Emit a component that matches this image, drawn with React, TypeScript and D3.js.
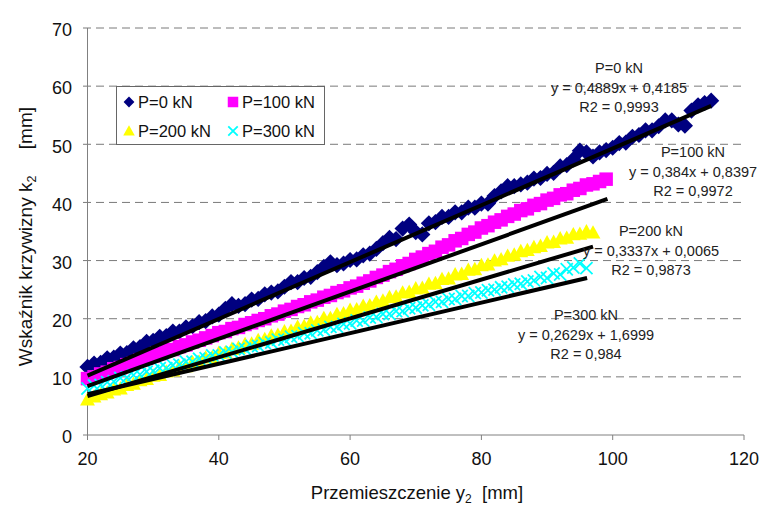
import * as d3 from "d3";

// x positions of the measurements [mm]
const p0X = d3.range(20, 116);
const p100X = d3.range(20, 100);
const p200X = d3.range(20, 98);
const p300X = d3.range(20, 97);

// k2 values
const p0Y = [
  11.7, 12.3, 12.4, 13.2, 13.3, 14.0, 14.1, 14.9, 15.1, 16.0, 16.2, 16.9, 17.0, 17.8, 17.8, 18.5,
  18.7, 19.4, 19.6, 20.4, 20.7, 21.7, 22.5, 22.2, 22.5, 23.3, 23.4, 24.2, 24.5, 24.7, 25.5, 26.3,
  26.3, 27.0, 27.2, 28.0, 28.9, 29.7, 29.2, 29.5, 30.1, 30.2, 30.9, 31.2, 32.0, 33.0, 33.9, 33.7,
  35.5, 36.2, 34.9, 34.5, 36.4, 36.6, 37.5, 37.5, 38.3, 38.3, 39.1, 39.1, 39.8, 39.8, 41.1, 41.9,
  42.8, 42.8, 43.1, 43.4, 44.1, 44.2, 44.9, 45.1, 46.2, 46.4, 47.4, 48.9, 48.6, 47.9, 48.6, 49.0,
  49.4, 50.2, 50.3, 51.3, 51.6, 52.4, 52.4, 53.1, 54.1, 54.1, 53.4, 53.2, 55.8, 56.7, 57.1, 57.5,
];
const p100Y = [
  9.7, 10.0, 10.5, 10.8, 11.4, 11.6, 12.1, 12.4, 12.9, 13.2, 13.6, 14.0, 14.5, 14.7, 15.2, 15.5,
  16.0, 16.3, 16.7, 17.1, 17.6, 17.8, 18.3, 18.5, 19.0, 19.3, 19.7, 20.0, 20.5, 20.8, 21.3, 21.6,
  22.1, 22.4, 22.9, 23.2, 23.7, 24.0, 24.5, 24.8, 25.3, 25.6, 26.1, 26.5, 27.1, 27.5, 28.1, 28.5,
  29.1, 29.5, 30.2, 30.6, 31.2, 31.6, 32.3, 32.7, 33.4, 33.8, 34.5, 34.9, 35.6, 36.0, 36.6, 37.0,
  37.6, 38.0, 38.6, 38.9, 39.5, 39.8, 40.4, 40.7, 41.3, 41.5, 42.1, 42.4, 43.0, 43.2, 43.6, 44.0,
];
const p200Y = [
  6.1, 6.6, 7.0, 7.3, 7.8, 8.0, 8.6, 8.8, 9.4, 9.6, 10.2, 10.3, 10.9, 11.1, 11.7, 11.8,
  12.5, 12.6, 13.3, 13.4, 14.1, 14.2, 14.8, 15.0, 15.6, 15.7, 16.3, 16.5, 17.1, 17.2, 17.8, 17.9,
  18.6, 18.7, 19.3, 19.4, 20.1, 20.1, 20.8, 20.9, 21.5, 21.6, 22.2, 22.3, 22.9, 23.1, 23.7, 23.8,
  24.5, 24.6, 25.2, 25.3, 26.0, 26.1, 26.8, 26.9, 27.6, 27.7, 28.4, 28.5, 29.2, 29.3, 30.0, 30.2,
  30.8, 31.0, 31.6, 31.8, 32.3, 32.5, 33.1, 33.2, 33.8, 33.9, 34.5, 34.6, 35.0, 34.8,
];
const p300Y = [
  8.0, 8.5, 8.6, 9.1, 9.2, 9.8, 9.9, 10.3, 10.4, 10.9, 11.0, 11.5, 11.5, 12.0, 12.1, 12.6,
  12.6, 13.1, 13.2, 13.7, 13.7, 14.2, 14.3, 14.8, 14.8, 15.3, 15.3, 15.8, 15.9, 16.4, 16.4, 16.9,
  17.0, 17.5, 17.5, 18.0, 18.1, 18.6, 18.6, 19.1, 19.2, 19.7, 19.7, 20.2, 20.3, 20.8, 20.8, 21.3,
  21.3, 21.8, 21.9, 22.3, 22.4, 22.9, 22.9, 23.4, 23.4, 23.9, 23.9, 24.4, 24.5, 24.9, 25.0, 25.4,
  25.5, 25.9, 26.0, 26.4, 26.6, 27.2, 27.0, 27.8, 27.6, 28.5, 28.8, 29.5, 28.7,
];

// trend lines as drawn: [x start, y start, x end, y end]
const trend0 = [20, 10.2, 115, 56.6];
const trend100 = [20, 8.4, 99.2, 40.6];
const trend200 = [20, 6.7, 97, 32.4];
const trend300 = [20, 7.0, 96.1, 27.0];

const seriesNames = ["P=0 kN", "P=100 kN", "P=200 kN", "P=300 kN"];
const seriesColors = ["#000080", "#ff00ff", "#ffff00", "#00ffff"];
const eqLabels = [
  ["P=0 kN", "y = 0,4889x + 0,4185", "R2 = 0,9993"],
  ["P=100 kN", "y = 0,384x + 0,8397", "R2 = 0,9972"],
  ["P=200 kN", "y = 0,3337x + 0,0065", "R2 = 0,9873"],
  ["P=300 kN", "y = 0,2629x + 1,6999", "R2 = 0,984"],
];
const xTicks = [20, 40, 60, 80, 100, 120];
const yTicks = [0, 10, 20, 30, 40, 50, 60, 70];

const W = 762;
const H = 506;
const x = d3.scaleLinear().domain([20, 120]).range([87.5, 744]);
const y = d3.scaleLinear().domain([0, 70]).range([435, 28]);

const font = "'Liberation Sans', Arial, sans-serif";

function marker(kind: number, cx: number, cy: number, s: number, key?: string | number) {
  const c = seriesColors[kind];
  if (kind === 0) {
    const r = s * 0.6;
    return <path key={key} d={`M${cx},${cy - r}L${cx + r},${cy}L${cx},${cy + r}L${cx - r},${cy}Z`} fill={c} />;
  }
  if (kind === 1) {
    const r = s * 0.5;
    return <rect key={key} x={cx - r} y={cy - r} width={2 * r} height={2 * r} fill={c} />;
  }
  if (kind === 2) {
    const r = s * 0.55;
    return <path key={key} d={`M${cx},${cy - r}L${cx + r},${cy + r * 0.8}L${cx - r},${cy + r * 0.8}Z`} fill={c} />;
  }
  const r = s * 0.45;
  return (
    <path
      key={key}
      d={`M${cx - r},${cy - r}L${cx + r},${cy + r}M${cx - r},${cy + r}L${cx + r},${cy - r}`}
      stroke={c}
      strokeWidth={1.8}
      fill="none"
    />
  );
}

const allX = [p0X, p100X, p200X, p300X];
const allY = [p0Y, p100Y, p200Y, p300Y];
const trends = [trend0, trend100, trend200, trend300];

// annotation placement: [center x, first baseline]
const eqPos = [
  [619, 73],
  [693, 157],
  [651, 236],
  [586, 320],
];

export default function App() {
  return (
    <svg
      width={W}
      height={H}
      style={{ position: "absolute", left: 0, top: 0, background: "#fff" }}
      fontFamily={font}
    >
      {/* gridlines */}
      {yTicks.slice(1).map((t) => (
        <line key={t} x1={83} x2={744} y1={y(t)} y2={y(t)} stroke="#7a7a7a" strokeDasharray="8,5" />
      ))}
      {/* axes */}
      <line x1={x(20)} x2={x(20)} y1={y(70)} y2={y(0)} stroke="#808080" />
      <line x1={x(20)} x2={x(120)} y1={y(0)} y2={y(0)} stroke="#808080" />
      <line x1={83} x2={x(20)} y1={y(0)} y2={y(0)} stroke="#808080" />
      {xTicks.map((t) => (
        <line key={t} x1={x(t)} x2={x(t)} y1={y(0)} y2={y(0) + 5} stroke="#808080" />
      ))}
      {yTicks.map((t) => (
        <text key={t} x={72} y={y(t) + 2} textAnchor="end" fontSize={18} dy="0.35em" fill="#111">
          {t}
        </text>
      ))}
      {xTicks.map((t) => (
        <text key={t} x={x(t)} y={465} textAnchor="middle" fontSize={18} fill="#111">
          {t}
        </text>
      ))}

      {/* series */}
      {allX.map((xs, si) => (
        <g key={si}>{xs.map((v, i) => marker(si, x(v), y(allY[si][i]), 13.5, i))}</g>
      ))}
      {trends.map((t, i) => (
        <line key={i} x1={x(t[0])} y1={y(t[1])} x2={x(t[2])} y2={y(t[3])} stroke="#000" strokeWidth={4} />
      ))}

      {/* equations */}
      {eqLabels.map((lines, i) => (
        <text key={i} textAnchor="middle" fontSize={14.5} fill="#222">
          {lines.map((l, j) => (
            <tspan key={j} x={eqPos[i][0]} y={eqPos[i][1] + j * 19.5}>
              {l}
            </tspan>
          ))}
        </text>
      ))}

      {/* legend */}
      <rect x={116.5} y={86.5} width={208} height={58} fill="#fff" stroke="#666" />
      {seriesNames.map((n, i) => {
        const lx = i % 2 === 0 ? 129 : 233;
        const ly = i < 2 ? 102 : 131;
        return (
          <g key={n}>
            {marker(i, lx, ly, i === 0 ? 9 : 10.5)}
            <text x={lx + 9} y={ly + 6} fontSize={16.5} fill="#111">
              {n}
            </text>
          </g>
        );
      })}

      {/* axis titles */}
      <text x={417} y={499} textAnchor="middle" fontSize={18.5} fill="#111">
        Przemieszczenie y<tspan fontSize={12} dy={4}>2</tspan>
        <tspan dy={-4} xmlSpace="preserve">{"  [mm]"}</tspan>
      </text>
      <text
        transform={`translate(32,107) rotate(-90)`}
        textAnchor="end"
        fontSize={19}
        fill="#111"
      >
        Wskaźnik krzywizny k<tspan fontSize={12.5} dy={4}>2</tspan>
        <tspan dy={-4} xmlSpace="preserve">{"     [mm]"}</tspan>
      </text>
    </svg>
  );
}
